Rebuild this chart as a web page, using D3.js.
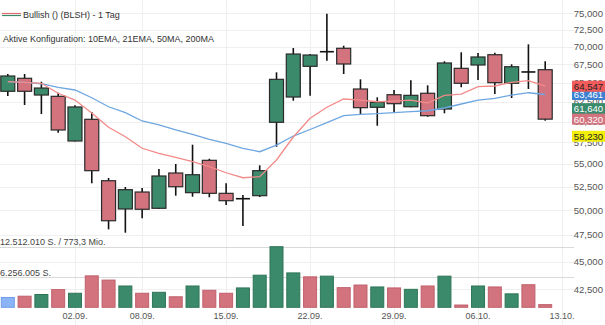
<!DOCTYPE html>
<html>
<head>
<meta charset="utf-8">
<script src="https://cdn.jsdelivr.net/npm/d3@7"></script>
<style>
  html, body { margin: 0; padding: 0; background: #fff; }
  svg { display: block; font-family: "Liberation Sans", Arial, Helvetica, sans-serif; }
</style>
</head>
<body>
<svg id="chart" width="605" height="325"></svg>
<script>
// ---------- data ----------
const dates = ["26.08.","27.08.","28.08.","29.08.","02.09.","03.09.","04.09.","05.09.","08.09.","09.09.",
  "10.09.","11.09.","12.09.","15.09.","16.09.","17.09.","18.09.","19.09.","22.09.","23.09.",
  "24.09.","25.09.","26.09.","29.09.","30.09.","01.10.","02.10.","03.10.","06.10.","07.10.",
  "08.10.","09.10.","10.10."];
const futureDates = ["13.10."];
const openV  = [63.88,65.61,63.39,63.22,57.67,60.30,53.14,50.14,51.92,50.21,53.99,51.85,55.42,51.78,51.21,51.53,59.93,63.13,67.25,69.30,69.79,64.18,61.81,63.43,61.88,63.62,61.59,66.97,67.43,68.87,64.94,66.47,66.78];
const highV  = [66.19,66.19,65.15,63.69,62.06,61.21,53.44,52.46,52.35,54.44,55.00,57.23,55.60,52.86,51.60,54.85,66.42,69.83,68.97,74.94,70.16,65.47,63.09,64.05,65.34,64.67,67.95,69.22,69.12,69.16,67.53,70.36,67.95];
const lowV   = [63.26,62.10,60.96,58.66,57.60,52.86,48.08,47.75,49.19,50.14,51.53,51.42,51.36,50.55,48.41,51.39,56.99,62.65,63.30,68.03,66.19,60.84,59.51,61.13,61.81,60.62,61.05,64.41,65.38,63.52,63.00,64.18,60.13];
const closeV = [65.92,63.88,64.31,58.99,61.85,54.25,48.94,52.17,50.11,53.66,52.49,53.80,51.78,51.00,51.21,54.25,65.47,68.97,68.83,69.30,67.57,61.76,62.45,62.27,63.35,60.75,67.71,64.94,68.55,65.02,67.19,66.47,60.32];
const volumeV = [2030000,2290000,2640000,3650000,2900000,6490000,5620000,4400000,2900000,3100000,
  2170000,4400000,3510000,2900000,4000000,6630000,12512010,7100000,6290000,6430000,
  4060000,4600000,4200000,4000000,3710000,4400000,6430000,470000,4400000,4200000,
  2780000,4660000,550000];
const ema10 = [65.15,65.07,64.94,63.62,62.74,61.09,59.32,58.18,56.81,56.23,55.76,55.26,54.70,54.02,53.47,53.58,55.46,58.14,60.43,61.81,62.87,62.74,62.52,62.61,62.74,62.36,63.35,63.52,64.49,64.58,65.07,65.29,64.547];
const ema21 = [65.15,65.07,64.88,64.41,64.05,63.04,61.88,61.13,60.09,59.60,58.99,58.47,57.87,57.39,56.81,56.41,57.19,58.26,59.05,59.90,60.77,60.92,61.00,61.13,61.25,61.37,61.72,62.23,62.74,62.96,63.39,63.69,63.461];
const priceTicks = [75,72.5,70,67.5,65,62.5,60,57.5,55,52.5,50,47.5,45,42.5];
const dateTicks = ["02.09.","08.09.","15.09.","22.09.","29.09.","06.10.","13.10."];
const badgeValues = [64.547,63.461,61.640,60.320,58.230];
const volumeMax = 12512010;
const volumeMaxLabel = "12.512.010 S. / 773,3 Mio.";
const volumeHalfLabel = "6.256.005 S.";
const titleText = "Bullish () (BLSH) - 1 Tag";
const configText = "Aktive Konfiguration: 10EMA, 21EMA, 50MA, 200MA";

// ---------- styles ----------
const badgeFill = ["#f25b5b","#3d7fd1","#3a8a6c","#d2737e","#f2ee0a"];
const badgeText = ["#222","#fff","#fff","#fff","#222"];
const badgeOrder = [1,0,2,3,4];   // drawing order (blue underneath)
const upFill = "#3b8a6c", downFill = "#d2737e";
const fmtPrice = v => d3.format(".3f")(v).replace(".", ",");

// ---------- scales ----------
const svg = d3.select("#chart");
const plotRight = 574;
const x = d3.scalePoint().domain(dates.concat(futureDates)).range([7.8, 562]);
const y = d3.scaleLog().domain([42.5, 75]).range([289.3, 13.3]);
const yv = d3.scaleLinear().domain([0, volumeMax]).range([307.3, 246.7]);
const bw = 14;

// ---------- grid ----------
svg.append("g").selectAll("line").data(priceTicks).join("line")
  .attr("x1", 0).attr("x2", plotRight)
  .attr("y1", d => Math.round(y(d)) + 0.5).attr("y2", d => Math.round(y(d)) + 0.5)
  .attr("stroke", "#efefef").attr("stroke-width", 1);
svg.append("g").selectAll("line").data(dateTicks).join("line")
  .attr("x1", d => Math.round(x(d)) + 0.5).attr("x2", d => Math.round(x(d)) + 0.5)
  .attr("y1", 0).attr("y2", 325)
  .attr("stroke", "#efefef").attr("stroke-width", 1);

// volume reference lines
svg.append("g").selectAll("line").data([volumeMax, volumeMax / 2]).join("line")
  .attr("x1", 0).attr("x2", plotRight)
  .attr("y1", d => Math.round(yv(d)) + 0.5).attr("y2", d => Math.round(yv(d)) + 0.5)
  .attr("stroke", "#d9d9d9").attr("stroke-width", 1);

// ---------- volume ----------
const volColor = i => i === 0 ? "#8ab4f5" : (closeV[i] >= closeV[i-1] ? upFill : downFill);
const volStroke = i => i === 0 ? "#6f9ce6" : (closeV[i] >= closeV[i-1] ? "#2f7558" : "#c0606c");
svg.append("g").selectAll("rect").data(volumeV).join("rect")
  .attr("x", (d, i) => x(dates[i]) - bw / 2 + 0.5)
  .attr("y", d => yv(d))
  .attr("width", bw - 1)
  .attr("height", d => yv(0) - yv(d))
  .attr("fill", (d, i) => volColor(i))
  .attr("stroke", (d, i) => volStroke(i))
  .attr("stroke-width", 1);

svg.append("text").attr("x", 0).attr("y", 245).attr("font-size", 9).attr("fill", "#444").text(volumeMaxLabel);
svg.append("text").attr("x", 0).attr("y", 275.5).attr("font-size", 9).attr("fill", "#444").text(volumeHalfLabel);

// ---------- candles ----------
const cg = svg.append("g");
dates.forEach((d, i) => {
  const cx = x(d);
  cg.append("line").attr("x1", cx).attr("x2", cx)
    .attr("y1", y(highV[i])).attr("y2", y(lowV[i]))
    .attr("stroke", "#111").attr("stroke-width", 1.6);
  const o = openV[i], c = closeV[i];
  if (Math.abs(o - c) < 0.001) {
    cg.append("line").attr("x1", cx - bw / 2).attr("x2", cx + bw / 2)
      .attr("y1", y(o)).attr("y2", y(o)).attr("stroke", "#111").attr("stroke-width", 1.6);
  } else {
    const top = y(Math.max(o, c)), bot = y(Math.min(o, c));
    cg.append("rect").attr("x", cx - bw / 2).attr("y", top)
      .attr("width", bw).attr("height", bot - top)
      .attr("fill", c > o ? upFill : downFill)
      .attr("stroke", "#2a2a2a").attr("stroke-width", 1.2);
  }
});

// ---------- moving averages ----------
const line = d3.line().x((d, i) => x(dates[i])).y(d => y(d));
svg.append("path").datum(ema21).attr("d", line).attr("fill", "none")
  .attr("stroke", "#6ea6e0").attr("stroke-width", 1.3);
svg.append("path").datum(ema10).attr("d", line).attr("fill", "none")
  .attr("stroke", "#f28a88").attr("stroke-width", 1.3);

// ---------- price axis labels ----------
svg.append("g").selectAll("text").data(priceTicks).join("text")
  .attr("x", 603).attr("y", d => y(d) + 3.2)
  .attr("text-anchor", "end").attr("font-size", 9.6).attr("fill", "#555")
  .text(d => fmtPrice(d));

// ---------- badges ----------
const bg = svg.append("g");
badgeOrder.forEach(i => {
  const v = badgeValues[i];
  const cy = y(v);
  bg.append("rect").attr("x", 572).attr("y", cy - 5.5).attr("width", 33).attr("height", 11)
    .attr("fill", badgeFill[i]);
  bg.append("text").attr("x", 588.5).attr("y", cy + 3.4).attr("text-anchor", "middle")
    .attr("font-size", 9.6).attr("fill", badgeText[i]).text(fmtPrice(v));
});

// ---------- date axis labels ----------
svg.append("g").selectAll("text").data(dateTicks).join("text")
  .attr("x", d => x(d)).attr("y", 318.5).attr("text-anchor", "middle")
  .attr("font-size", 9).attr("fill", "#555").text(d => d);

// ---------- legend ----------
svg.append("line").attr("x1", 2).attr("x2", 21).attr("y1", 13.5).attr("y2", 13.5)
  .attr("stroke", "#e06c6c").attr("stroke-width", 1.2);
svg.append("line").attr("x1", 2).attr("x2", 21).attr("y1", 15.5).attr("y2", 15.5)
  .attr("stroke", "#3b8a6c").attr("stroke-width", 1.2);
svg.append("text").attr("x", 23).attr("y", 18.2).attr("font-size", 9).attr("fill", "#333").text(titleText);
svg.append("text").attr("x", 3).attr("y", 41.5).attr("font-size", 9).attr("fill", "#333").text(configText);
</script>
</body>
</html>
